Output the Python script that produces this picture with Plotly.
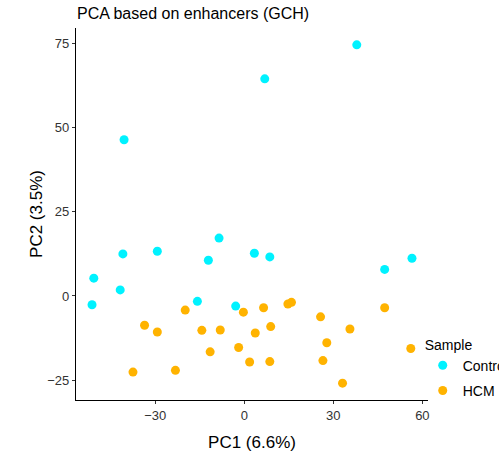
import plotly.graph_objects as go

control_pc1 = [37.9, 6.9, -40.5, -8.5, -40.9, -29.3, -12.1, 3.4, 8.6, -50.7, -41.8, -51.3, -15.8, -2.9, 56.5, 47.3]
control_pc2 = [74.6, 64.5, 46.4, 17.2, 12.5, 13.3, 10.6, 12.7, 11.6, 5.3, 1.8, -2.6, -1.6, -3.0, 11.2, 7.9]

hcm_pc1 = [-19.9, -33.6, -29.3, -14.3, -8.1, -11.5, -1.9, -37.5, -23.2, -0.3, 6.5, 3.7, 8.9, 1.8, 8.6,
           14.7, 15.9, 47.3, 25.7, 35.6, 27.8, 56.1, 26.5, 33.1]
hcm_pc2 = [-4.2, -8.7, -10.7, -10.2, -10.1, -16.6, -15.3, -22.6, -22.1, -4.8, -3.5, -11.0, -9.1, -19.6, -19.5,
           -2.4, -1.9, -3.5, -6.2, -9.8, -13.9, -15.6, -19.2, -25.9]

x_ticks = [-30, 0, 30, 60]
y_ticks = [-25, 0, 25, 50, 75]

FONT = "Liberation Sans, Arial, sans-serif"
CYAN = "#00F2FF"
ORANGE = "#FFB300"

fig = go.Figure()
fig.add_trace(go.Scatter(x=control_pc1, y=control_pc2, mode="markers", name="Control", legendgroup="c",
                         marker=dict(color=CYAN, size=9, line=dict(width=0))))
fig.add_trace(go.Scatter(x=hcm_pc1, y=hcm_pc2, mode="markers", name="HCM", legendgroup="h",
                         marker=dict(color=ORANGE, size=9, line=dict(width=0))))

axis_common = dict(showgrid=False, zeroline=False, showline=True, linecolor="black", linewidth=1.2,
                   ticks="outside", ticklen=3, tickwidth=1, tickcolor="#333333",
                   tickfont=dict(family=FONT, size=13, color="#333333"), mirror=False, automargin=True)

fig.update_layout(
    width=499, height=463,
    margin=dict(l=76, r=71, t=28, b=63, autoexpand=False),
    paper_bgcolor="white", plot_bgcolor="white",
    font=dict(family=FONT, color="black"),
    title=dict(text="PCA based on enhancers (GCH)", x=77 / 499, xanchor="left",
               y=1 - 13 / 463, yanchor="middle", yref="container",
               font=dict(family=FONT, size=16, color="black")),
    xaxis=dict(range=[-56.7, 61.9], tickvals=x_ticks,
               ticktext=[("\u2212" + str(-v)) if v < 0 else str(v) for v in x_ticks],
               title=dict(text="PC1 (6.6%)", font=dict(family=FONT, size=17, color="black"), standoff=14),
               **axis_common),
    yaxis=dict(range=[-30.9, 79.6], tickvals=y_ticks,
               ticktext=[("\u2212" + str(-v)) if v < 0 else str(v) for v in y_ticks],
               title=dict(text="PC2 (3.5%)", font=dict(family=FONT, size=17, color="black"), standoff=0),
               **axis_common),
    legend=dict(x=0.985, y=(400 - 369) / 372, xanchor="left", yanchor="middle",
                title=dict(text="Sample", font=dict(family=FONT, size=14, color="black")),
                font=dict(family=FONT, size=14, color="black"), traceorder="grouped",
                tracegroupgap=4, bgcolor="rgba(0,0,0,0)"),
    showlegend=True,
)

fig.add_annotation(text="<b>G</b>", xref="paper", yref="paper", x=(27 - 76) / 352, y=1 + (28 - 8) / 372,
                   xanchor="center", yanchor="bottom", showarrow=False,
                   font=dict(family=FONT, size=28, color="black"))

fig.write_html("out.html", config={"displayModeBar": False},
               post_script="document.body.style.margin='0px';")
